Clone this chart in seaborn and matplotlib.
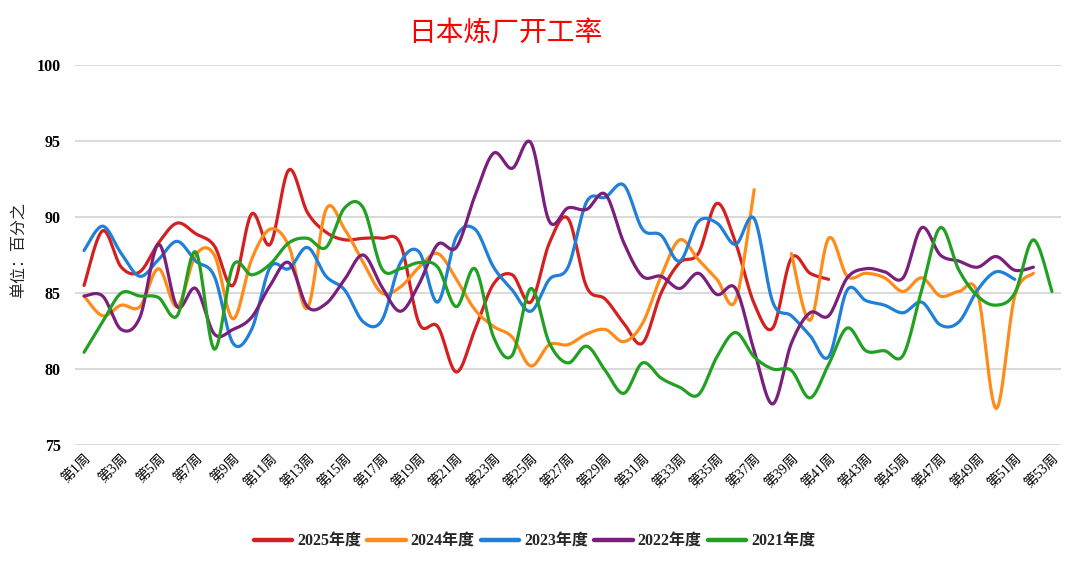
"""
日本炼厂开工率 - weekly refinery utilisation, 2021-2025
"""

import numpy as np
import pandas as pd
import seaborn as sns
import matplotlib.pyplot as plt

# weekly values (percent)
WEEKS = list(range(1, 54))
Y2025 = [85.5, 89.1, 86.7, 86.4, 88.3, 89.6, 88.9, 88.1, 85.5, 90.2,
         88.2, 93.1, 90.3, 89.0, 88.5, 88.6, 88.6, 88.2, 83.0, 82.8,
         79.8, 82.6, 85.6, 86.2, 84.4, 88.3, 89.9, 85.4, 84.6, 83.0,
         81.7, 85.0, 87.0, 87.6, 90.9, 88.3, 84.3, 82.7, 87.3, 86.3,
         85.9]
Y2024 = [84.8, 83.5, 84.2, 84.1, 86.6, 84.1, 87.5, 87.5, 83.3, 87.2,
         89.2, 88.1, 84.0, 90.5, 89.2, 87.0, 85.0, 85.4, 86.7, 87.6,
         85.9, 83.9, 82.8, 82.1, 80.2, 81.6, 81.6, 82.3, 82.6, 81.8,
         83.0, 86.1, 88.5, 87.2, 85.9, 84.5, 91.8, np.nan, 87.6, 83.2,
         88.6, 86.1, 86.3, 86.0, 85.1, 86.0, 84.8, 85.1, 85.0, 77.4,
         84.8, 86.3]
Y2023 = [87.8, 89.4, 87.6, 86.1, 87.2, 88.4, 87.1, 86.1, 81.7, 82.6,
         86.7, 86.6, 88.0, 86.1, 85.2, 83.1, 83.2, 87.0, 87.7, 84.4,
         88.7, 89.2, 86.7, 85.2, 83.8, 85.9, 86.7, 91.0, 91.3, 92.1,
         89.2, 88.8, 87.1, 89.7, 89.6, 88.2, 89.9, 84.4, 83.5, 82.2,
         80.8, 85.2, 84.5, 84.2, 83.7, 84.4, 82.9, 83.1, 85.2, 86.4,
         85.9]
Y2022 = [84.8, 84.8, 82.6, 83.4, 88.2, 84.1, 85.3, 82.3, 82.6, 83.4,
         85.5, 87.0, 84.1, 84.3, 85.9, 87.5, 85.4, 83.8, 85.6, 88.2,
         88.0, 91.4, 94.2, 93.2, 94.9, 89.7, 90.6, 90.5, 91.5, 88.3,
         86.1, 86.1, 85.3, 86.3, 84.9, 85.3, 81.2, 77.7, 81.7, 83.7,
         83.5, 86.0, 86.6, 86.4, 86.0, 89.3, 87.5, 87.1, 86.7, 87.4,
         86.5, 86.7]
Y2021 = [81.1, 83.1, 85.0, 84.8, 84.7, 83.5, 87.7, 81.3, 86.8, 86.2,
         86.9, 88.3, 88.6, 88.0, 90.6, 90.6, 86.6, 86.6, 87.0, 86.7,
         84.1, 86.6, 82.1, 80.9, 85.3, 81.7, 80.4, 81.5, 79.9, 78.4,
         80.4, 79.4, 78.8, 78.3, 80.8, 82.4, 80.8, 80.0, 79.9, 78.1,
         80.3, 82.7, 81.2, 81.2, 80.9, 85.2, 89.3, 86.5, 84.8, 84.2,
         85.0, 88.5, 85.1]

SERIES = {'2025年度': Y2025, '2024年度': Y2024, '2023年度': Y2023,
          '2022年度': Y2022, '2021年度': Y2021}
COLORS = ['#d42020', '#ff8c1a', '#2080d8', '#7a1f7c', '#22a022']
TICK_WEEKS = WEEKS[::2]
TICK_LABELS = [f'第{w}周' for w in TICK_WEEKS]


def smooth(xs, ys, n=16):
    """Catmull-Rom style bezier smoothing (like Excel smoothed lines)."""
    px, py, seg = [], [], []
    xs, ys = np.asarray(xs, float), np.asarray(ys, float)
    ok = ~np.isnan(ys)
    # split into contiguous runs of valid points
    runs, cur = [], []
    for i in range(len(ys)):
        if ok[i]:
            cur.append(i)
        elif cur:
            runs.append(cur)
            cur = []
    if cur:
        runs.append(cur)
    t = np.linspace(0, 1, n)
    for k, run in enumerate(runs):
        P = np.column_stack([xs[run], ys[run]])
        m = len(P)
        for i in range(m - 1):
            p0 = P[i - 1] if i > 0 else P[i]
            p1, p2 = P[i], P[i + 1]
            p3 = P[i + 2] if i + 2 < m else P[i + 1]
            c1 = p1 + (p2 - p0) / 6
            c2 = p2 - (p3 - p1) / 6
            tt = t[:, None]
            pts = ((1 - tt) ** 3 * p1 + 3 * (1 - tt) ** 2 * tt * c1
                   + 3 * (1 - tt) * tt ** 2 * c2 + tt ** 3 * p2)
            if i > 0:
                pts = pts[1:]
            px.extend(pts[:, 0])
            py.extend(pts[:, 1])
            seg.extend([k] * len(pts))
    return px, py, seg


# build long table of smoothed curves
frames = []
for name, vals in SERIES.items():
    sx, sy, sg = smooth(WEEKS[:len(vals)], vals)
    frames.append(pd.DataFrame({'week': sx, 'value': sy,
                                'seg': sg, 'series': name}))
DATA = pd.concat(frames, ignore_index=True)

sns.set_theme(style='white')
plt.rcParams['font.family'] = ['Liberation Serif', 'Noto Sans CJK SC']
MIXED = ['Liberation Serif', 'Noto Sans CJK SC']

fig = plt.figure(figsize=(10.8, 5.63), dpi=100)
ax = fig.add_axes([0.0692, 0.2096, 0.9135, 0.6749])

sns.lineplot(data=DATA, x='week', y='value', hue='series', units='seg',
             estimator=None, sort=False, palette=COLORS,
             hue_order=list(SERIES.keys()), linewidth=2.3, ax=ax)

ax.set_xlim(0.5, 53.5)
ax.set_ylim(75, 100)
ax.set_yticks([75, 80, 85, 90, 95, 100])
ax.set_xticks(TICK_WEEKS)
ax.set_xticklabels(TICK_LABELS, rotation=45, ha='right',
                   rotation_mode='anchor', fontsize=10, family=MIXED)
for lab in ax.get_yticklabels():
    lab.set_fontweight('bold')
    lab.set_fontsize(11.5)
ax.tick_params(axis='y', length=0, pad=10, colors='black')
ax.tick_params(axis='x', length=0, pad=5, colors='black')
ax.grid(axis='y', color='#d9d9d9', linewidth=1.4)
ax.set_axisbelow(True)
ax.set_xlabel('')
ax.set_ylabel('')
sns.despine(ax=ax, left=True, bottom=True)

fig.text(0.017, 0.556, '单位：百分之', rotation=90, ha='center', va='center',
         fontsize=11.5, family=['Noto Sans CJK SC'])
fig.text(0.4676, 0.942, '日本炼厂开工率', color='#ff0000', ha='center',
         va='center', fontsize=20, family=['Noto Sans CJK SC'])

sns.move_legend(ax, 'center', bbox_to_anchor=(0.466, -0.253), ncol=5,
                frameon=False, title=None, handlelength=2.4,
                columnspacing=0.4, handletextpad=0.3,
                prop={'family': MIXED, 'weight': 'bold', 'size': 11.5})
for line in ax.get_legend().get_lines():
    line.set_linewidth(3.2)

fig.savefig('out.png', dpi=100)
